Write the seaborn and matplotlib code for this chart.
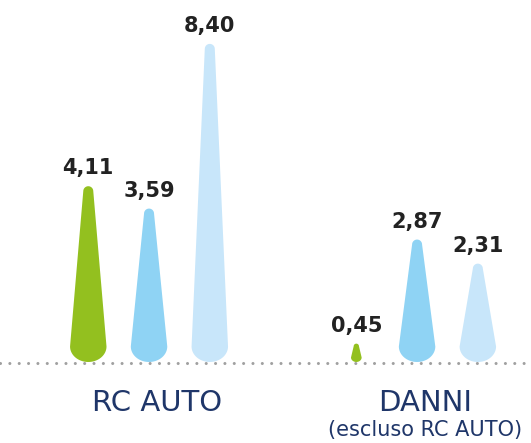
import numpy as np
import pandas as pd
import matplotlib
matplotlib.use("Agg")
import matplotlib.pyplot as plt
import seaborn as sns
from matplotlib.path import Path
from matplotlib.patches import PathPatch
from matplotlib.transforms import IdentityTransform

# --- data -------------------------------------------------------------
rami = ["RC AUTO", "DANNI"]
sottotitoli = ["", "(escluso RC AUTO)"]
serie = ["Serie 1", "Serie 2", "Serie 3"]
valori_serie_1 = [4.11, 0.45]
valori_serie_2 = [3.59, 2.87]
valori_serie_3 = [8.40, 2.31]
colori = ["#93c01f", "#8fd3f4", "#c8e6fa"]

df = pd.DataFrame({
    "ramo": rami * 3,
    "serie": [s for s in serie for _ in rami],
    "valore": valori_serie_1 + valori_serie_2 + valori_serie_3,
})

# compressed y axis above the break point (tall bars are shortened)
BREAK = 4.5
K = 0.7484


def fwd(v):
    v = np.asarray(v, dtype=float)
    return np.where(v <= BREAK, v, BREAK + (v - BREAK) * K)


def inv(u):
    u = np.asarray(u, dtype=float)
    return np.where(u <= BREAK, u, BREAK + (u - BREAK) / K)


W, H = 531, 443
fig = plt.figure(figsize=(W / 100, H / 100), dpi=100)
ax = fig.add_axes([0, 0, 1, 1])

sns.barplot(data=df, x="ramo", y="valore", hue="serie", order=rami,
            hue_order=serie, palette=colori, width=0.68, saturation=1,
            errorbar=None, legend=False, ax=ax)

ax.set_yscale("function", functions=(fwd, inv))
ax.set_xlim(-0.556, 1.425)
ax.set_ylim(-1.860, 9.763)
ax.set_axis_off()

# dotted baseline
ax.axhline(0, color="#a0a0a0", lw=2.2, linestyle=(0, (0.01, 3.05)),
           dash_capstyle="round", zorder=1)


def goccia(cx, yb, yt, larghezza):
    """Teardrop outline in pixel coordinates."""
    rx = larghezza / 2
    ry = rx * 0.85
    rt = min(5.0, rx * 0.5)
    pts = []
    # rounded tip
    for a in np.linspace(0, np.pi, 20):
        pts.append((cx + rt * np.cos(a), yt - rt + rt * np.sin(a)))
    # rounded bottom
    for a in np.linspace(np.pi, 2 * np.pi, 40):
        pts.append((cx + rx * np.cos(a), yb + ry + ry * np.sin(a)))
    pts.append(pts[0])
    codes = [Path.MOVETO] + [Path.LINETO] * (len(pts) - 2) + [Path.CLOSEPOLY]
    return Path(pts, codes)


for p in list(ax.patches):
    cx = p.get_x() + p.get_width() / 2
    v = p.get_height()
    col = p.get_facecolor()
    p.set_visible(False)
    x0 = ax.transData.transform((p.get_x(), 0))[0]
    x1 = ax.transData.transform((p.get_x() + p.get_width(), 0))[0]
    bx, by = ax.transData.transform((cx, 0))
    _, ty = ax.transData.transform((cx, v))
    hpx = ty - by
    larg = min(0.6 * (x1 - x0), 0.55 * hpx)
    ax.add_patch(PathPatch(goccia(bx, by + 1, ty, larg), facecolor=col,
                           edgecolor="none", transform=IdentityTransform(),
                           zorder=3))
    ax.text(bx, ty + 12, f"{v:.2f}".replace(".", ","),
            transform=IdentityTransform(), ha="center", va="baseline",
            fontsize=15, fontweight="bold", color="#222222",
            family="DejaVu Sans", zorder=4)

# category labels
navy = "#1f3669"
for i, (r, s) in enumerate(zip(rami, sottotitoli)):
    gx = ax.transData.transform((i, 0))[0] + 8
    ax.text(gx, H - 403, r, transform=IdentityTransform(), ha="center",
            va="center", fontsize=21, color=navy, family="DejaVu Sans")
    if s:
        ax.text(gx, H - 430, s, transform=IdentityTransform(), ha="center",
                va="center", fontsize=15, color=navy, family="DejaVu Sans")

fig.savefig("out.png", dpi=100)
